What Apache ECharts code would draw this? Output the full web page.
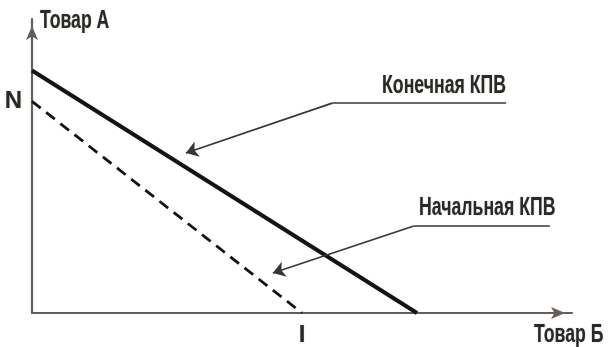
<!DOCTYPE html>
<html>
<head>
<meta charset="utf-8">
<script src="https://cdn.jsdelivr.net/npm/echarts@6/dist/echarts.min.js"></script>
<style>
  html, body { margin: 0; padding: 0; background: #fff; }
  #chart { width: 609px; height: 347px; }
</style>
</head>
<body>
<div id="chart"></div>
<script>
// Production possibility frontiers (КПВ): final (solid) and initial (dashed)
const finalPPF = [[0, 82.5], [71.3, 0]];
const initialPPF = [[0, 72], [50, 0]];

// Intercept tick labels
const yTickValues = [72];
const yTickLabels = ['N'];
const xTickValues = [50];
const xTickLabels = ['I'];

// Axis titles and their anchor points (data units)
const axisTitles = ['Товар А', 'Товар Б'];
const axisTitlePos = [[7.9, 99.3], [99.4, -7.5]];

// Callout texts and their anchor points (data units)
const calloutTexts = ['Конечная КПВ', 'Начальная КПВ'];
const calloutTextPos = [[76.3, 77.2], [84.3, 35.7]];
// underline segments and leader arrows
const calloutUnderlines = [
  [[87.8, 71.4], [55.6, 71.4]],
  [[95.9, 29.6], [70.7, 29.6]]
];
const calloutArrows = [
  [[55.6, 71.4], [28.5, 54.4]],
  [[70.7, 29.6], [44.6, 13.6]]
];

const FONT_FAMILY = '"Liberation Sans", Arial, sans-serif';
const TEXT_COLOR = '#2b2926';
const AXIS_COLOR = '#655f59';
const LEADER_COLOR = '#3a3530';
const TEXT_SCALE_X = 0.68;

const chart = echarts.init(document.getElementById('chart'), null, { renderer: 'canvas' });

const tickLabelStyle = {
  fontFamily: FONT_FAMILY,
  fontSize: 24,
  fontWeight: 'bold',
  color: TEXT_COLOR,
  textShadowColor: 'rgba(120,110,100,0.45)',
  textShadowBlur: 1.5
};

const axisLineStyle = {
  onZero: false,
  symbol: ['none', 'arrow'],
  symbolSize: [9, 14],
  symbolOffset: [0, -7],
  lineStyle: { color: AXIS_COLOR, width: 2.2 }
};

chart.setOption({
  animation: false,
  backgroundColor: '#ffffff',
  grid: {
    left: 32, right: 37, top: 19, bottom: 34,
    containLabel: false,
    outerBoundsMode: 'none'
  },
  xAxis: {
    type: 'value',
    min: 0, max: 100,
    splitLine: { show: false },
    axisTick: { show: false },
    axisLine: axisLineStyle,
    axisLabel: Object.assign({}, tickLabelStyle, {
      customValues: xTickValues,
      formatter: (v) => xTickLabels[xTickValues.indexOf(v)] || '',
      margin: 10
    })
  },
  yAxis: {
    type: 'value',
    min: 0, max: 100,
    splitLine: { show: false },
    axisTick: { show: false },
    axisLine: axisLineStyle,
    axisLabel: Object.assign({}, tickLabelStyle, {
      customValues: yTickValues,
      formatter: (v) => yTickLabels[yTickValues.indexOf(v)] || '',
      margin: 10
    })
  },
  series: [
    {
      name: 'Конечная КПВ',
      type: 'line',
      data: finalPPF,
      showSymbol: false,
      lineStyle: { color: '#141414', width: 4 },
      z: 3
    },
    {
      name: 'Начальная КПВ',
      type: 'line',
      data: initialPPF,
      showSymbol: false,
      lineStyle: { color: '#141414', width: 2.8, type: [11, 7] },
      z: 3
    },
    {
      type: 'lines',
      coordinateSystem: 'cartesian2d',
      symbol: ['none', 'none'],
      lineStyle: { color: LEADER_COLOR, width: 1.7, opacity: 1 },
      data: calloutUnderlines.map(c => ({ coords: c })),
      z: 4
    },
    {
      type: 'lines',
      coordinateSystem: 'cartesian2d',
      symbol: ['none', 'arrow'],
      symbolSize: 12,
      lineStyle: { color: LEADER_COLOR, width: 1.7, opacity: 1 },
      data: calloutArrows.map(c => ({ coords: c })),
      z: 4
    }
  ]
});

// Condensed-looking titles: placed through the grid's own scale, squeezed horizontally
function condensedText(text, pos) {
  const p = chart.convertToPixel({ gridIndex: 0 }, pos);
  return {
    type: 'text',
    x: p[0],
    y: p[1],
    scaleX: TEXT_SCALE_X,
    z: 10,
    style: {
      text: text,
      font: 'bold 26px ' + FONT_FAMILY,
      fill: TEXT_COLOR,
      align: 'center',
      verticalAlign: 'middle',
      textShadowColor: 'rgba(120,110,100,0.45)',
      textShadowBlur: 1.5
    }
  };
}

chart.setOption({
  graphic: [
    ...axisTitles.map((t, i) => condensedText(t, axisTitlePos[i])),
    ...calloutTexts.map((t, i) => condensedText(t, calloutTextPos[i]))
  ]
});
</script>
</body>
</html>
